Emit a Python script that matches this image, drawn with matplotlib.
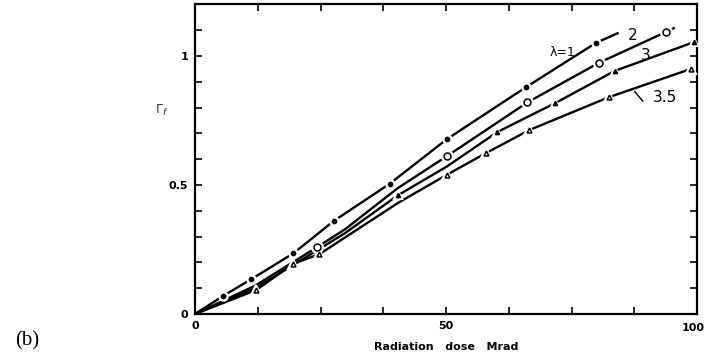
import numpy as np
import matplotlib.pyplot as plt
from matplotlib.ticker import MultipleLocator, FixedLocator

# values (dose in Mrad)
dose_l1 = [0, 5.6, 11.2, 19.6, 27.6, 38.8, 50.2, 66.0, 79.8, 84.4]
resp_l1 = [0, 0.07, 0.135, 0.235, 0.36, 0.505, 0.678, 0.88, 1.05, 1.09]

dose_l2 = [0, 12.0, 24.4, 30.0, 40.4, 50.2, 66.2, 80.4, 93.8, 95.6]
resp_l2 = [0, 0.11, 0.26, 0.33, 0.488, 0.612, 0.82, 0.973, 1.093, 1.11]

dose_l3 = [0, 12.0, 24.6, 30.0, 40.4, 50.2, 60.2, 71.8, 83.6, 99.4]
resp_l3 = [0, 0.10, 0.25, 0.315, 0.46, 0.572, 0.705, 0.818, 0.942, 1.054]

dose_l35 = [0, 12.2, 19.6, 24.8, 40.4, 50.2, 58.0, 66.6, 82.4, 98.8]
resp_l35 = [0, 0.093, 0.195, 0.232, 0.43, 0.54, 0.624, 0.713, 0.84, 0.95]

# which points carry a symbol
marks_l1 = [1, 2, 3, 4, 5, 6, 7, 8]
marks_l2 = [2, 5, 6, 7, 8]
marks_l3 = [4, 6, 7, 8, 9]
marks_l35 = [1, 2, 3, 5, 6, 7, 8, 9]

curve_labels = ["λ=1", "2", "3", "3.5"]


def draw_curve(ax, x, y, marks, marker, filled, size):
    ax.plot(x, y, color="black", lw=1.7, solid_capstyle="butt", zorder=2)
    xm = [x[i] for i in marks]
    ym = [y[i] for i in marks]
    # white halo to break the line around each symbol, like the original
    ax.plot(xm, ym, ls="none", marker=marker, ms=size + 3, mfc="white",
            mec="white", mew=1.5, zorder=3)
    ax.plot(xm, ym, ls="none", marker=marker, ms=size,
            mfc="black" if filled else "white", mec="black", mew=1.1, zorder=4)


fig = plt.figure(figsize=(7.06, 3.6), dpi=100)
ax = fig.add_axes([195 / 706, 46 / 360, 502 / 706, 309.6 / 360])

draw_curve(ax, dose_l1, resp_l1, marks_l1, "o", True, 3)
draw_curve(ax, dose_l2, resp_l2, marks_l2, "o", False, 5)
draw_curve(ax, dose_l3, resp_l3, marks_l3, "^", True, 3)
draw_curve(ax, dose_l35, resp_l35, marks_l35, "^", False, 3.5)

ax.set_xlim(0, 100)
ax.set_ylim(0, 1.2)

ax.xaxis.set_major_locator(FixedLocator([0, 50, 100]))
ax.xaxis.set_minor_locator(MultipleLocator(12.5))
ax.yaxis.set_major_locator(FixedLocator([0, 0.5, 1.0]))
ax.yaxis.set_minor_locator(MultipleLocator(0.1))
ax.set_xticklabels(["0", "50", ""])
ax.set_yticklabels(["0", "0.5", "1"])

for s in ax.spines.values():
    s.set_linewidth(1.6)
ax.tick_params(which="both", direction="in", top=True, right=True,
               width=1.2, labelsize=8)
ax.tick_params(which="major", length=5, pad=5)
ax.tick_params(which="minor", length=5)
for lab in ax.get_xticklabels() + ax.get_yticklabels():
    lab.set_fontweight("bold")
# the last x label sits at the very edge of the page
fig.text(705 / 706, 1 - 328 / 360, "100", fontsize=8, fontweight="bold",
         ha="right", va="center")

# curve labels
ax.text(73.2, 1.015, curve_labels[0], fontsize=9, ha="center", va="center")
ax.text(87.2, 1.08, curve_labels[1], fontsize=11, ha="center", va="center")
ax.text(89.8, 1.0, curve_labels[2], fontsize=11, ha="center", va="center")
ax.text(93.6, 0.84, curve_labels[3], fontsize=11, ha="center", va="center")
ax.plot([87.6, 89.2], [0.862, 0.825], color="black", lw=1.0)

ax.set_xlabel("Radiation   dose   Mrad", fontsize=8, fontweight="bold", labelpad=8)
fig.text(162 / 706, 1 - 110 / 360, r"$\Gamma_{f}$", fontsize=9, ha="center",
         va="center", color="#333333")

fig.text(27 / 706, 1 - 341 / 360, "(b)", fontsize=15, family="Liberation Serif",
         ha="center", va="center")

fig.savefig("out.png", dpi=100, facecolor="white")
